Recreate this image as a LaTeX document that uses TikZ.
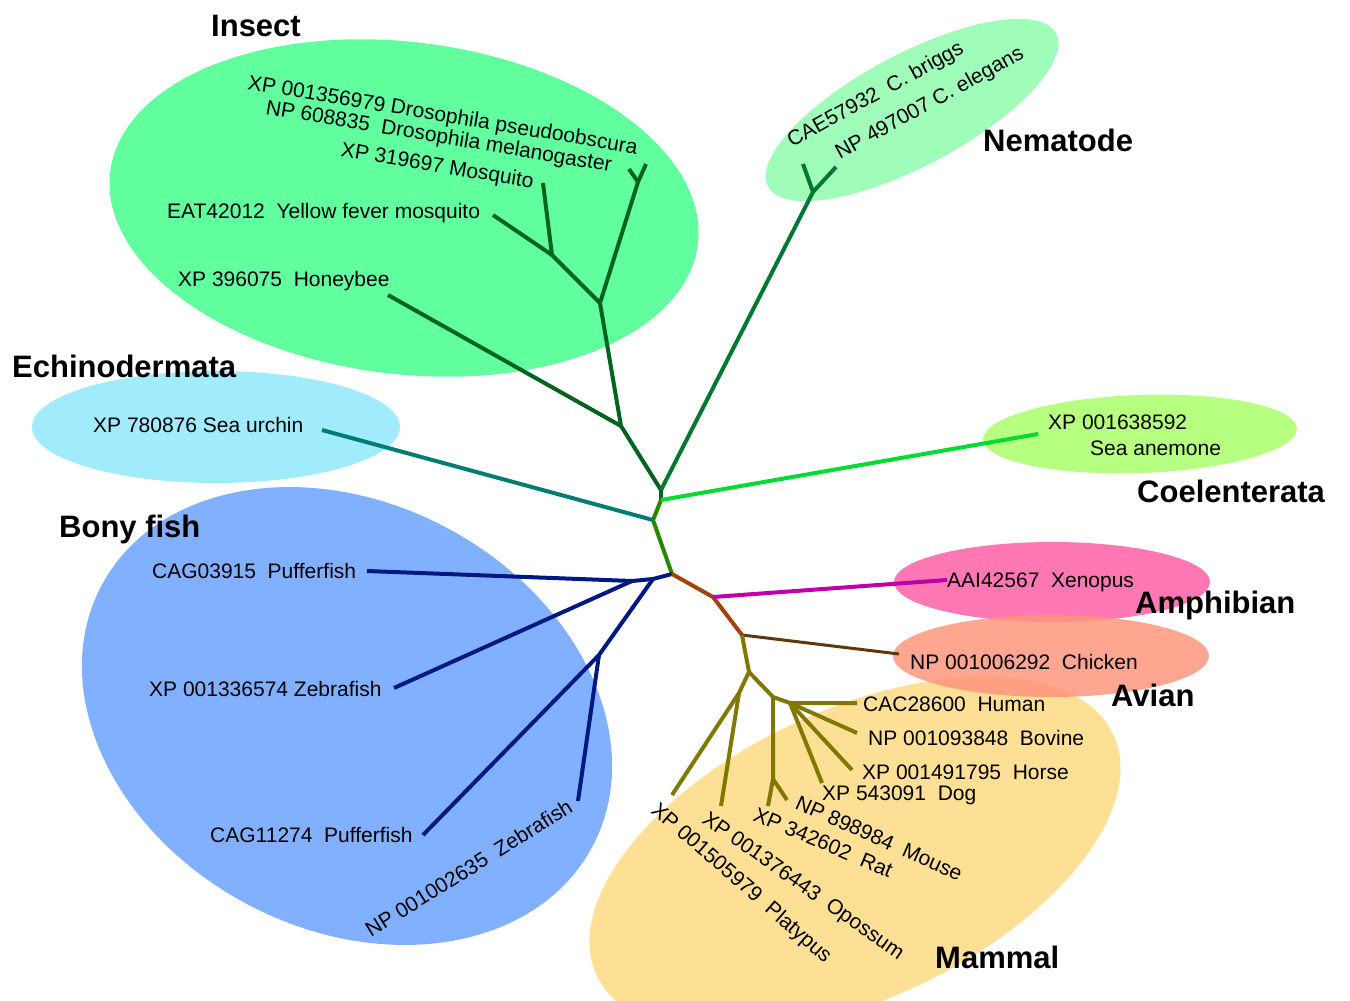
\documentclass[tikz,border=0pt]{standalone}
\usepackage{fontspec}
\setmainfont{Liberation Sans}
\definecolor{insectfill}{RGB}{98,255,158}
\definecolor{nemafill}{RGB}{160,252,185}
\definecolor{echinofill}{RGB}{160,235,252}
\definecolor{coelfill}{RGB}{183,255,128}
\definecolor{fishfill}{RGB}{128,176,255}
\definecolor{amphfill}{RGB}{255,120,180}
\definecolor{avianfill}{RGB}{255,150,125}
\definecolor{mammfill}{RGB}{253,223,150}
\definecolor{insectln}{RGB}{0,100,30}
\definecolor{nemaln}{RGB}{0,120,50}
\definecolor{trunkln}{RGB}{40,135,0}
\definecolor{coelln}{RGB}{0,220,50}
\definecolor{echinoln}{RGB}{0,125,115}
\definecolor{fishln}{RGB}{0,25,130}
\definecolor{brownln}{RGB}{165,65,10}
\definecolor{xenln}{RGB}{190,0,170}
\definecolor{chickln}{RGB}{95,55,10}
\definecolor{mammln}{RGB}{128,120,0}
\begin{document}
\begin{tikzpicture}[x=1pt,y=-1pt,
  br/.style={line width=4pt,line join=round},
  lab/.style={font=\fontsize{21}{25}\selectfont,inner sep=0pt},
  grp/.style={font=\bfseries\fontsize{31}{36}\selectfont,inner sep=0pt,anchor=base west}]
\useasboundingbox (0,0) rectangle (1350,1001);
% blobs
\fill[mammfill,rotate around={25:(855,855)}] (855,855) ellipse [x radius=285,y radius=145];
\fill[insectfill,rotate around={-7:(404,208)}] (404,208) ellipse [x radius=296,y radius=166];
\fill[nemafill,rotate around={28:(912,110)}] (912,110) ellipse [x radius=163,y radius=56];
\fill[echinofill] (216,427) ellipse [x radius=184,y radius=56];
\fill[coelfill,rotate around={2:(1140,434)}] (1140,434) ellipse [x radius=157,y radius=39];
\fill[fishfill,rotate around={-28:(347,716)}] (347,716) ellipse [x radius=278,y radius=213];
\fill[amphfill] (1052,582) ellipse [x radius=158,y radius=40];
\fill[avianfill,opacity=0.85] (1051,656) ellipse [x radius=158,y radius=41];
% tree coordinates
\coordinate (A) at (672,574);
\coordinate (B) at (653,520);
\coordinate (C) at (661,500);
\coordinate (D) at (661,490);
\coordinate (E) at (621,426);
\coordinate (F) at (600,303);
\coordinate (G) at (638,182);
\coordinate (H) at (552,255);
\coordinate (pseudo) at (646,164);
\coordinate (melano) at (629,169);
\coordinate (mosq) at (543,183);
\coordinate (yellow) at (493,215);
\coordinate (honey) at (388,295);
\coordinate (Nj) at (813,192);
\coordinate (briggs) at (803,164);
\coordinate (elegans) at (836,167);
\coordinate (coel) at (1038,434);
\coordinate (urchin) at (322,430);
\coordinate (K2) at (653,579);
\coordinate (K1) at (632,581);
\coordinate (puff1) at (367,571);
\coordinate (zeb1) at (394,688);
\coordinate (J) at (599,655);
\coordinate (puff2) at (423,835);
\coordinate (zeb2) at (578,801);
\coordinate (L) at (713,597);
\coordinate (M) at (742,635);
\coordinate (xen) at (947,580);
\coordinate (chick) at (899,654);
\coordinate (N) at (749,672);
\coordinate (P) at (739,693);
\coordinate (platy) at (672,795);
\coordinate (opos) at (721,806);
\coordinate (Q) at (773,697);
\coordinate (R) at (790,703);
\coordinate (S) at (773,779);
\coordinate (rat) at (768,806);
\coordinate (mouse) at (787,800);
\coordinate (human) at (857,703);
\coordinate (bovine) at (857,733);
\coordinate (horse) at (852,770);
\coordinate (dog) at (822,783);
% branches
\draw[br,insectln] (D) -- (E) -- (F) -- (G) -- (pseudo);
\draw[br,insectln] (G) -- (melano);
\draw[br,insectln] (F) -- (H) -- (mosq);
\draw[br,insectln] (H) -- (yellow);
\draw[br,insectln] (E) -- (honey);
\draw[br,insectln] (C) -- (D);
\draw[br,nemaln] (D) -- (Nj) -- (briggs);
\draw[br,nemaln] (Nj) -- (elegans);
\draw[br,trunkln] (A) -- (B) -- (C);
\draw[br,coelln] (C) -- (coel);
\draw[br,echinoln] (B) -- (urchin);
\draw[br,fishln] (A) -- (K2) -- (K1) -- (puff1);
\draw[br,fishln] (K1) -- (zeb1);
\draw[br,fishln] (K2) -- (J) -- (puff2);
\draw[br,fishln] (J) -- (zeb2);
\draw[br,brownln] (A) -- (L) -- (M);
\draw[br,xenln] (L) -- (xen);
\draw[line width=3pt,chickln] (M) -- (chick);
\draw[br,mammln] (M) -- (N) -- (P) -- (platy);
\draw[br,mammln] (P) -- (opos);
\draw[br,mammln] (N) -- (Q) -- (R) -- (human);
\draw[br,mammln] (R) -- (bovine);
\draw[br,mammln] (R) -- (horse);
\draw[br,mammln] (R) -- (dog);
\draw[br,mammln] (Q) -- (S) -- (rat);
\draw[br,mammln] (S) -- (mouse);
% group labels
\node[grp] (tInsect) at (211,36) {Insect};
\node[grp] (tNema) at (983,151) {Nematode};
\node[grp] (tEchino) at (12,377) {Echinodermata};
\node[grp] (tCoel) at (1137,502) {Coelenterata};
\node[grp] (tFish) at (59,537) {Bony fish};
\node[grp] (tAmph) at (1135,613) {Amphibian};
\node[grp] (tAvian) at (1111,706) {Avian};
\node[grp] (tMamm) at (935,968) {Mammal};
% leaf labels
\node[lab,anchor=base west,rotate=-9.5] (lPseudo) at (247,89) {XP 001356979 Drosophila pseudoobscura};
\node[lab,anchor=base west,rotate=-9.5] (lMelano) at (265,114) {NP 608835\ \ Drosophila melanogaster};
\node[lab,anchor=base west,rotate=-9.5] (lMosq) at (340,156) {XP 319697 Mosquito};
\node[lab,anchor=base west] (lYellow) at (167,218) {EAT42012\ \ Yellow fever mosquito};
\node[lab,anchor=base west] (lHoney) at (178,286) {XP 396075\ \ Honeybee};
\node[lab,anchor=base west,rotate=29] (lBriggs) at (792,148) {CAE57932\ \ C. briggs};
\node[lab,anchor=base west,rotate=29] (lElegans) at (840,160) {NP 497007 C. elegans};
\node[lab,anchor=base west] (lUrchin) at (93,432) {XP 780876 Sea urchin};
\node[lab,anchor=base west] (lAnem1) at (1048,429) {XP 001638592};
\node[lab,anchor=base west] (lAnem2) at (1090,455) {Sea anemone};
\node[lab,anchor=base west] (lPuff1) at (152,578) {CAG03915\ \ Pufferfish};
\node[lab,anchor=base west] (lZeb1) at (149,696) {XP 001336574 Zebrafish};
\node[lab,anchor=base west] (lPuff2) at (210,842) {CAG11274\ \ Pufferfish};
\node[lab,anchor=base west,rotate=32] (lZeb2) at (371,938) {NP 001002635\ \ Zebrafish};
\node[lab,anchor=base west] (lXen) at (947,587) {AAI42567\ \ Xenopus};
\node[lab,anchor=base west] (lChick) at (910,669) {NP 001006292\ \ Chicken};
\node[lab,anchor=base west] (lHuman) at (863,711) {CAC28600\ \ Human};
\node[lab,anchor=base west] (lBovine) at (868,745) {NP 001093848\ \ Bovine};
\node[lab,anchor=base west] (lHorse) at (862,779) {XP 001491795\ \ Horse};
\node[lab,anchor=base west] (lDog) at (822,800) {XP 543091\ \ Dog};
\node[lab,anchor=base west,rotate=-24] (lMouse) at (794,808) {NP 898984\ \ Mouse};
\node[lab,anchor=base west,rotate=-23] (lRat) at (752,820) {XP 342602\ \ Rat};
\node[lab,anchor=base west,rotate=-35] (lOpos) at (701,822) {XP 001376443\ \ Opossum};
\node[lab,anchor=base west,rotate=-41] (lPlaty) at (650,812) {XP 001505979\ \ Platypus};
\end{tikzpicture}
\end{document}
